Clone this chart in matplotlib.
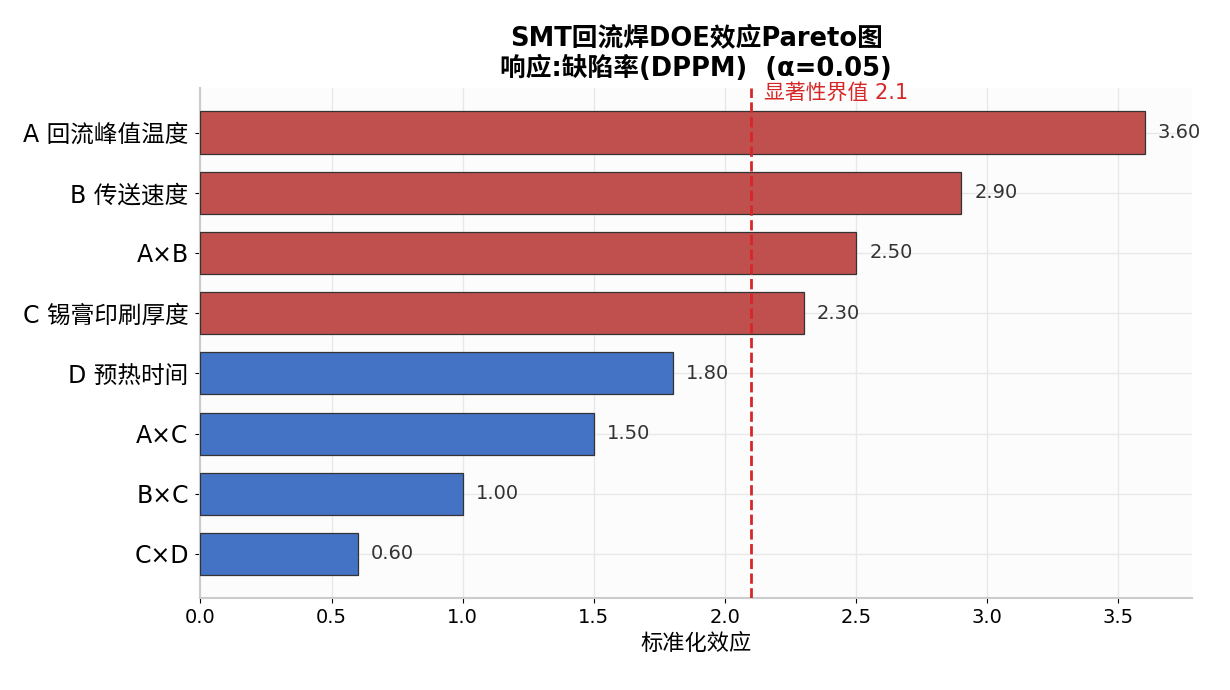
import numpy as np
import matplotlib
matplotlib.use('Agg')
from matplotlib import pyplot as plt

plt.rcParams['font.family'] = ['DejaVu Sans', 'Noto Sans CJK SC']

factors = ['A 回流峰值温度', 'B 传送速度', 'A×B', 'C 锡膏印刷厚度',
           'D 预热时间', 'A×C', 'B×C', 'C×D']
effects = [3.6, 2.9, 2.5, 2.3, 1.8, 1.5, 1.0, 0.6]
threshold = 2.1

colors = ['#C0504D' if v > threshold else '#4472C4' for v in effects]
y = np.arange(len(factors))

fig, ax = plt.subplots(figsize=(12.3, 6.9), dpi=100)
fig.subplots_adjust(left=0.163, right=0.969, top=0.872, bottom=0.133)
ax.set_facecolor('#fcfcfc')

ax.barh(y, effects, height=0.7, color=colors, edgecolor='#333333', linewidth=0.9, zorder=3)
ax.invert_yaxis()
ax.set_yticks(y)
ax.set_yticklabels(factors, fontsize=17)
ax.tick_params(axis='y', pad=5)
ax.tick_params(axis='x', labelsize=14)

for yi, v in zip(y, effects):
    ax.text(v + 0.05, yi, f'{v:.2f}', va='center', ha='left', fontsize=14,
            color='#333333')

ax.axvline(threshold, color='#D62728', linestyle='--', linewidth=2, zorder=4)
ax.text(threshold + 0.05, -0.49, f'显著性界值 {threshold}', color='#D62728',
        fontsize=15, ha='left', va='bottom')

ax.set_xlim(0, max(effects) * 1.05)
ax.set_xlabel('标准化效应', fontsize=16)
ax.set_title('SMT回流焊DOE效应Pareto图\n响应:缺陷率(DPPM)  (α=0.05)',
             fontsize=18.5, fontweight='bold', pad=9)

ax.grid(True, color='#e8e8e8', linewidth=1, zorder=0)
ax.set_axisbelow(True)
for s in ['top', 'right']:
    ax.spines[s].set_visible(False)
for s in ['left', 'bottom']:
    ax.spines[s].set_color('#cccccc')
    ax.spines[s].set_linewidth(1.5)

plt.savefig('out.png', dpi=100)
